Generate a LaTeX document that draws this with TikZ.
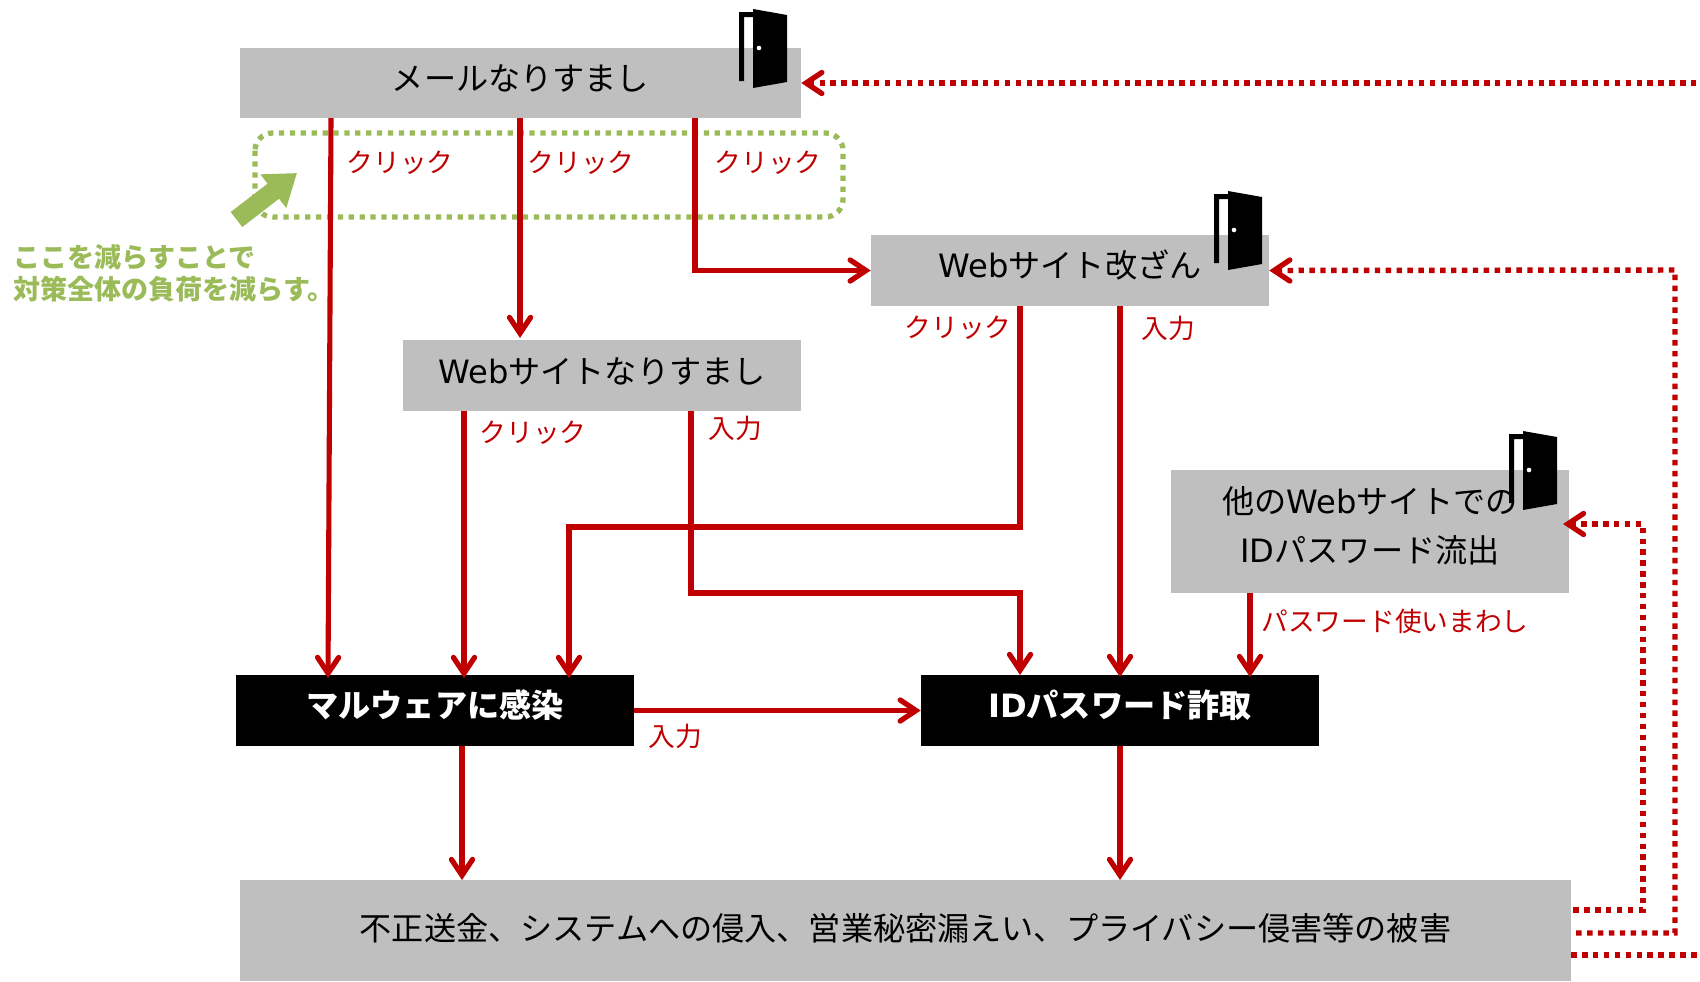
\documentclass[tikz,border=0pt]{standalone}
\usepackage{fontspec}
\setmainfont{Noto Sans CJK JP}
\newfontfamily\latfont{DejaVu Sans}
\usetikzlibrary{arrows.meta}
\definecolor{flowred}{RGB}{192, 0, 0}
\definecolor{boxgray}{RGB}{191, 191, 191}
\definecolor{notegreen}{RGB}{155, 187, 89}
\newcommand{\lat}[1]{{\latfont #1}}
\newcommand{\lift}[2]{\raisebox{#1}[\height][\depth]{#2}}

\begin{document}
\begin{tikzpicture}[
    x=0.02cm, y=-0.02cm,
    grayblock/.style={rectangle, fill=boxgray, inner sep=0pt, font=\fontsize{18.3}{27.7}\selectfont, align=center},
    blackblock/.style={rectangle, fill=black, text=white, inner sep=0pt, font=\fontsize{18.3}{27.7}\selectfont\bfseries},
    flow/.style={draw=flowred, line width=2.9pt, -{Straight Barb[length=9pt, width=12pt, line cap=round, line width=3pt]}},
    reuse/.style={draw=flowred, line width=3.1pt, dash pattern=on 3.1pt off 3.1pt},
    reusearrow/.style={reuse, {Straight Barb[length=9pt, width=12pt, line cap=round, line width=3pt]}-},
    flowlabel/.style={text=flowred, inner sep=0pt, font=\fontsize{15.2}{18}\selectfont},
    door/.pic={
        \fill[black] (0,72) -- (0,3) -- (14,3) -- (14,8) -- (5,8) -- (5,72) -- cycle;
        \fill[black] (14,0) -- (48,6) -- (48,73) -- (14,79) -- cycle;
        \fill[white] (20,39) circle (2.3);
    }
]
    \useasboundingbox (0,0) rectangle (1700,981);

    % Boxes
    \node[grayblock, minimum width=11.22cm, minimum height=1.4cm] (mail) at (520.5,83) {\lift{2.4pt}{メールなりすまし}};
    \node[grayblock, minimum width=7.96cm, minimum height=1.42cm] (tamper) at (1070,270.5) {\lift{3pt}{\lat{Web}サイト改ざん}};
    \node[grayblock, minimum width=7.96cm, minimum height=1.42cm] (fakeweb) at (602,375.5) {\lift{2.4pt}{\lat{Web}サイトなりすまし}};
    \node[grayblock, minimum width=7.96cm, minimum height=2.46cm] (leak) at (1370,531.5) {\lift{2pt}{\begin{tabular}{@{}c@{}}他の\lat{Web}サイトでの\\\lat{ID}パスワード流出\end{tabular}}};
    \node[blackblock, minimum width=7.96cm, minimum height=1.42cm] (malware) at (435,710.5) {\lift{3pt}{マルウェアに感染}};
    \node[blackblock, minimum width=7.96cm, minimum height=1.42cm] (theft) at (1120,710.5) {\lift{3pt}{\lat{ID}パスワード詐取}};
    \node[grayblock, minimum width=26.62cm, minimum height=2.02cm] (damage) at (905.5,930.5) {\lift{1.2pt}{不正送金、システムへの侵入、営業秘密漏えい、プライバシー侵害等の被害}};

    % Doors
    \foreach \d/\x/\y in {doormail/739/9, doortamper/1214/191, doorleak/1509/431} {
        \pic (\d) at (\x,\y) {door};
    }

    % Green note
    \draw[notegreen, line width=3pt, dash pattern=on 3pt off 3.2pt, rounded corners=10pt] (255,133) rectangle (843,217);
    \coordinate (notefrom) at (236.5,219.5);
    \coordinate (noteto) at (297,173);
    \draw[notegreen, line width=10.8pt, -{Triangle[length=17pt, width=23pt]}] (notefrom) -- (noteto);
    \node[text=notegreen, anchor=north west, inner sep=0pt, align=left, font=\fontsize{15.4}{18}\selectfont\bfseries] (note) at (13,244) {ここを減らすことで\\対策全体の負荷を減らす。};

    % Solid flows
    \coordinate (mailA) at (331,118);
    \coordinate (mailB) at (520,118);
    \coordinate (mailC) at (695,118);
    \coordinate (malwareA) at (328,678);
    \coordinate (malwareB) at (464,678);
    \coordinate (malwareC) at (569,678);
    \coordinate (malwareD) at (462,746);
    \coordinate (fakewebA) at (464,411);
    \coordinate (fakewebB) at (691,411);
    \coordinate (fakewebtop) at (520,338);
    \coordinate (tamperA) at (1020,306);
    \coordinate (tamperB) at (1120,306);
    \coordinate (theftA) at (1020,675);
    \coordinate (theftB) at (1120,677);
    \coordinate (theftC) at (1250,677);
    \coordinate (theftD) at (1120,746);
    \coordinate (leakA) at (1250,593);
    \coordinate (damageA) at (462,880);
    \coordinate (damageB) at (1120,880);

    \draw[flow] (mailA) -- (malwareA);
    \draw[flow] (mailB) -- (fakewebtop);
    \draw[flow] (mailC) |- (tamper.west);
    \draw[flow] (fakewebA) -- (malwareB);
    \draw[flow] (fakewebB) -- (691,593) -- (1020,593) -- (theftA);
    \draw[flow] (tamperA) -- (1020,527) -- (569,527) -- (malwareC);
    \draw[flow] (tamperB) -- (theftB);
    \draw[flow] (leakA) -- (theftC);
    \draw[flow] (malware.east) -- (theft.west);
    \draw[flow] (malwareD) -- (damageA);
    \draw[flow] (theftD) -- (damageB);

    % Dotted flows
    \coordinate (edgetop) at (1700,83);
    \coordinate (edgelow) at (1700,955);
    \draw[reusearrow] (mail.east |- edgetop) -- (edgetop);
    \draw[reusearrow] (tamper.east) -- (1675,270) -- (1675,933) -- (damage.east |- 0,933);
    \draw[reusearrow] (1563,524) -- (1643,524) -- (1643,910) -- (damage.east |- 0,910);
    \draw[reuse] (damage.east |- edgelow) -- (edgelow);

    % Labels
    \foreach \n/\x/\y/\t in {a/400/163/クリック, b/581/163/クリック, c/768/163/クリック, d/958/328/クリック, e/1168/328/入力, f/533/433/クリック, g/735/428/入力, h/1395/621/パスワード使いまわし, i/675/736/入力} {
        \node[flowlabel] (lab\n) at (\x,\y) {\t};
    }
\end{tikzpicture}
\end{document}
